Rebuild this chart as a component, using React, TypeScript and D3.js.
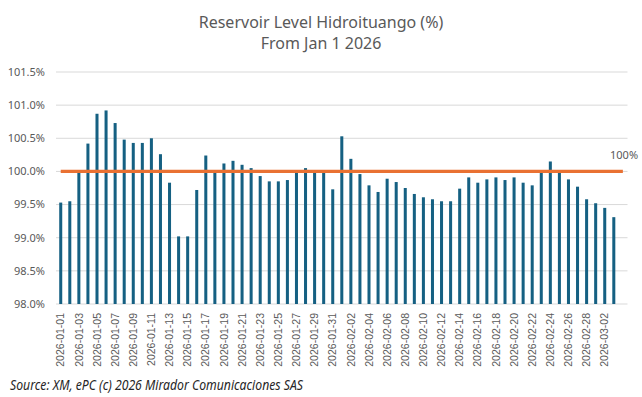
import * as React from "react"
import * as d3 from "d3"

const WIDTH = 642
const HEIGHT = 397

const TITLE = ["Reservoir Level Hidroituango (%)", "From Jan 1 2026"]
const SOURCE = "Source: XM, ePC (c) 2026 Mirador Comunicaciones SAS"

// one entry per day, 2026-01-01 .. 2026-03-03
const dates = [
  "2026-01-01", "2026-01-02", "2026-01-03", "2026-01-04", "2026-01-05", "2026-01-06",
  "2026-01-07", "2026-01-08", "2026-01-09", "2026-01-10", "2026-01-11", "2026-01-12",
  "2026-01-13", "2026-01-14", "2026-01-15", "2026-01-16", "2026-01-17", "2026-01-18",
  "2026-01-19", "2026-01-20", "2026-01-21", "2026-01-22", "2026-01-23", "2026-01-24",
  "2026-01-25", "2026-01-26", "2026-01-27", "2026-01-28", "2026-01-29", "2026-01-30",
  "2026-01-31", "2026-02-01", "2026-02-02", "2026-02-03", "2026-02-04", "2026-02-05",
  "2026-02-06", "2026-02-07", "2026-02-08", "2026-02-09", "2026-02-10", "2026-02-11",
  "2026-02-12", "2026-02-13", "2026-02-14", "2026-02-15", "2026-02-16", "2026-02-17",
  "2026-02-18", "2026-02-19", "2026-02-20", "2026-02-21", "2026-02-22", "2026-02-23",
  "2026-02-24", "2026-02-25", "2026-02-26", "2026-02-27", "2026-02-28", "2026-03-01",
  "2026-03-02", "2026-03-03",
]

const levels = [
  99.53, 99.55, 99.98, 100.42, 100.87, 100.92,
  100.73, 100.48, 100.43, 100.43, 100.5, 100.26,
  99.83, 99.02, 99.02, 99.72, 100.24, 99.98,
  100.12, 100.16, 100.1, 100.05, 99.93, 99.85,
  99.85, 99.87, 99.98, 100.05, 99.98, 99.98,
  99.73, 100.53, 100.19, 99.96, 99.79, 99.69,
  99.89, 99.84, 99.75, 99.66, 99.61, 99.58,
  99.55, 99.55, 99.74, 99.91, 99.83, 99.88,
  99.91, 99.87, 99.91, 99.83, 99.79, 99.98,
  100.15, 99.98, 99.88, 99.77, 99.58, 99.52,
  99.45, 99.31,
]

const yTicks = [98, 98.5, 99, 99.5, 100, 100.5, 101, 101.5]
const TARGET = 100
const TARGET_LABEL = "100%"

const FONT = "'Noto Sans', 'Liberation Sans', sans-serif"
const GREY = "#595959"

export default function App() {
  // one empty slot after the last day, the 100% line runs into it
  const slots = [...dates, ""]

  const x = d3.scaleBand().domain(slots).range([56.2, 627.4]).paddingInner(0.667).paddingOuter(0.333)
  const y = d3.scaleLinear().domain([98, 101.5]).range([304, 72])
  const fmt = d3.format(".1f")

  const center = (d) => x(d) + x.bandwidth() / 2
  const line = d3
    .line()
    .x(d => center(d))
    .y(() => y(TARGET))

  return (
    <svg width={WIDTH} height={HEIGHT} style={{ position: "absolute", left: 0, top: 0 }}>
      <rect width={WIDTH} height={HEIGHT} fill="#fff" />

      <text x={321} y={28} textAnchor="middle" fontFamily={FONT} fontSize={16} fill={GREY}>
        {TITLE[0]}
      </text>
      <text x={321} y={49} textAnchor="middle" fontFamily={FONT} fontSize={16} fill={GREY}>
        {TITLE[1]}
      </text>

      {yTicks.map(t => (
        <g key={t}>
          <line x1={56} x2={627.5} y1={y(t)} y2={y(t)} stroke="#D9D9D9" strokeWidth={1} />
          <text x={45} y={y(t)} dy="0.35em" textAnchor="end" fontFamily={FONT} fontSize={11} fill={GREY}>
            {fmt(t)}%
          </text>
        </g>
      ))}

      {dates.map((d, i) => (
        <rect
          key={d}
          x={x(d)}
          y={y(levels[i])}
          width={x.bandwidth()}
          height={y(98) - y(levels[i])}
          fill="#156082"
        />
      ))}

      <path
        d={line([slots[0], slots[slots.length - 1]])}
        stroke="#E97132"
        strokeWidth={3.2}
        fill="none"
      />
      <text x={610} y={155} dy="0.35em" fontFamily={FONT} fontSize={11} fill={GREY}>
        {TARGET_LABEL}
      </text>

      {dates.map((d, i) =>
        i % 2 === 0 ? (
          <text
            key={d}
            transform={`translate(${center(d)},313) rotate(-90)`}
            dy="0.35em"
            textAnchor="end"
            fontFamily="'Liberation Sans', Arial, sans-serif"
            fontSize={10.5}
            fill={GREY}
          >
            {d}
          </text>
        ) : null
      )}

      <text
        x={10}
        y={390}
        fontFamily={FONT}
        fontStyle="italic"
        fontSize={13.5}
        fill="#262626"
        textLength={293}
        lengthAdjust="spacingAndGlyphs"
      >
        {SOURCE}
      </text>
    </svg>
  )
}
